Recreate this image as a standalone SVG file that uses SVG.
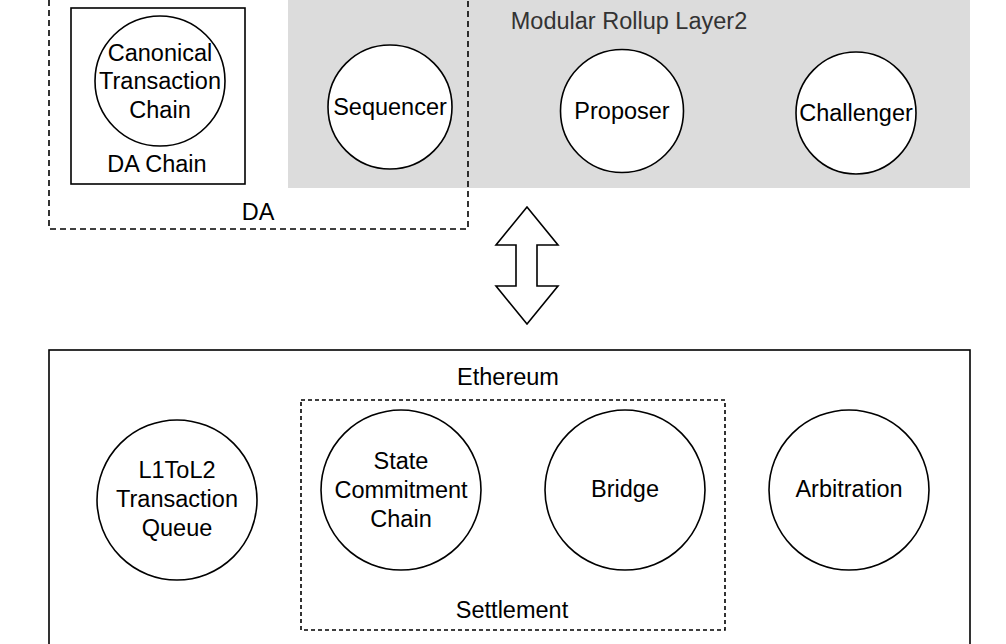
<svg xmlns="http://www.w3.org/2000/svg" width="1006" height="644" viewBox="0 0 1006 644">
<style>
.t{font-family:"Liberation Sans",Arial,Helvetica,sans-serif;font-size:23.5px;fill:#000;text-anchor:middle;dominant-baseline:central}
.g{fill:#333}
.n{fill:#fff;stroke:#000;stroke-width:1.6}
.box{fill:none;stroke:#000;stroke-width:1.6}
.dash{fill:none;stroke:#000;stroke-width:1.6;stroke-dasharray:6 4}
.dash2{fill:none;stroke:#000;stroke-width:1.6;stroke-dasharray:4 3}
</style>
<rect width="1006" height="644" fill="#fff"/>
<g id="layer2">
<rect x="288" y="-10" width="682" height="198" fill="#dcdcdc"/>
<text class="t g" x="629" y="21">Modular Rollup Layer2</text>
</g>
<g id="da">
<rect class="dash" x="49" y="-10" width="419" height="239"/>
<text class="t" x="258" y="212">DA</text>
</g>
<g id="da-chain">
<rect class="box" x="71" y="8" width="174" height="176"/>
<text class="t" x="157" y="164">DA Chain</text>
</g>
<g id="canonical">
<circle class="n" cx="160" cy="81" r="65"/>
<text class="t" x="160" y="53">Canonical</text>
<text class="t" x="160" y="81">Transaction</text>
<text class="t" x="160" y="110">Chain</text>
</g>
<g id="sequencer">
<circle class="n" cx="390" cy="107" r="62"/>
<text class="t" x="390" y="107">Sequencer</text>
</g>
<g id="proposer">
<circle class="n" cx="622" cy="111" r="61.5"/>
<text class="t" x="622" y="111">Proposer</text>
</g>
<g id="challenger">
<ellipse class="n" cx="856" cy="113" rx="60" ry="61"/>
<text class="t" x="856" y="113">Challenger</text>
</g>
<g id="connectors">
<polygon class="n" points="527,207 558,245 537,245 537,286 558,286 527,324 496,286 516,286 516,245 496,245"/>
</g>
<g id="ethereum">
<rect class="box" x="49" y="350" width="921" height="310"/>
<text class="t" x="508" y="377">Ethereum</text>
</g>
<g id="settlement">
<rect class="dash2" x="301" y="400" width="424" height="230"/>
<text class="t" x="512" y="610">Settlement</text>
</g>
<g id="l1tol2">
<circle class="n" cx="177" cy="500" r="80"/>
<text class="t" x="177" y="470">L1ToL2</text>
<text class="t" x="177" y="499">Transaction</text>
<text class="t" x="177" y="528">Queue</text>
</g>
<g id="state-commitment">
<circle class="n" cx="401" cy="490" r="80"/>
<text class="t" x="401" y="461">State</text>
<text class="t" x="401" y="490">Commitment</text>
<text class="t" x="401" y="519">Chain</text>
</g>
<g id="bridge">
<circle class="n" cx="625" cy="490" r="80"/>
<text class="t" x="625" y="489">Bridge</text>
</g>
<g id="arbitration">
<circle class="n" cx="849" cy="490" r="80"/>
<text class="t" x="849" y="489">Arbitration</text>
</g>
</svg>
